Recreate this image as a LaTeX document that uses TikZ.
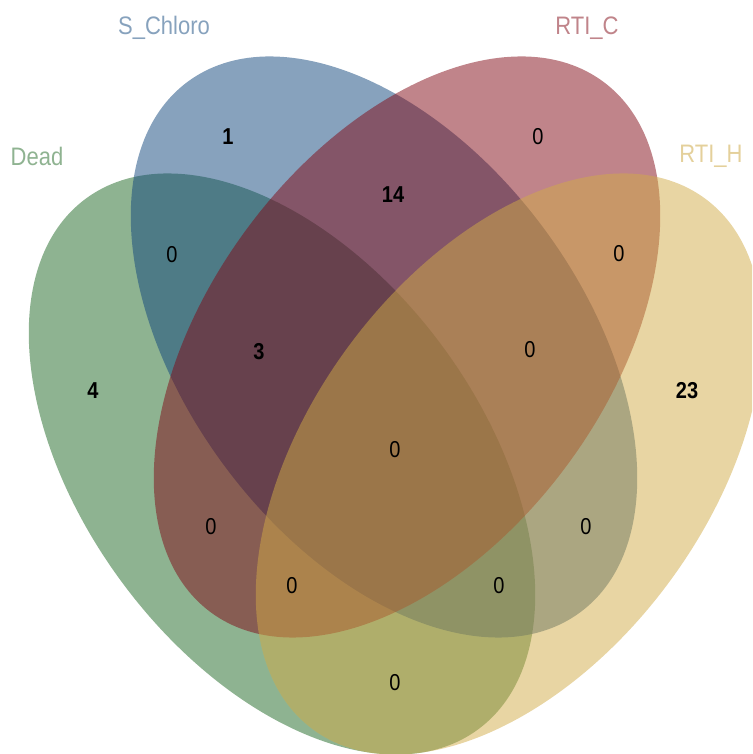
\documentclass[tikz,border=0pt]{standalone}
\usepackage{fontspec}
\setmainfont{Liberation Sans}
\definecolor{deadc}{RGB}{30,104,36}
\definecolor{schc}{RGB}{15,69,123}
\definecolor{rtic}{RGB}{129,9,21}
\definecolor{rtih}{RGB}{209,171,71}
\definecolor{deadl}{RGB}{143,179,145}
\definecolor{schl}{RGB}{135,162,189}
\definecolor{rticl}{RGB}{192,132,138}
\definecolor{rtihl}{RGB}{228,208,155}
\newcommand{\vst}[1]{\scalebox{1}[1.15]{#1}}
\begin{document}
\begin{tikzpicture}[x=1pt,y=1pt,
  setfill/.style={fill=#1, fill opacity=0.5},
  num/.style={font=\fontsize{20}{20}\selectfont, text=black, inner sep=0pt},
  bnum/.style={font=\fontsize{20}{20}\selectfont\bfseries, text=black, inner sep=0pt},
  lab/.style={font=\fontsize{22}{22}\selectfont, inner sep=0pt, text=#1}]
\useasboundingbox (0,0) rectangle (752,754);
\clip (0,0) rectangle (752,754);
% sets (Dead, S_Chloro, RTI_C, RTI_H)
\fill[setfill=deadc, rotate around={-53.5:(282,290)}] (282,290) ellipse [x radius=330, y radius=199];
\fill[setfill=schc, rotate around={-53.5:(384,407)}] (384,407) ellipse [x radius=330, y radius=199];
\fill[setfill=rtic, rotate around={53.5:(407,407)}] (407,407) ellipse [x radius=330, y radius=199];
\fill[setfill=rtih, rotate around={53.5:(509,290)}] (509,290) ellipse [x radius=330, y radius=199];
% set labels
\node[lab=schl] (lS) at (164,726) {\vst{S\_Chloro}};
\node[lab=rticl] (lC) at (587,726) {\vst{RTI\_C}};
\node[lab=deadl] (lD) at (37,598) {\vst{Dead}};
\node[lab=rtihl] (lH) at (711,598) {\vst{RTI\_H}};
% counts
\node[bnum] (n1) at (228,617) {\vst{1}};
\node[num] (n2) at (538,617) {\vst{0}};
\node[bnum] (n3) at (393,559) {\vst{14}};
\node[num] (n4) at (172,499) {\vst{0}};
\node[num] (n5) at (619,500) {\vst{0}};
\node[bnum] (n6) at (259,402) {\vst{3}};
\node[num] (n7) at (530,404) {\vst{0}};
\node[bnum] (n8) at (93,363) {\vst{4}};
\node[bnum] (n9) at (687,363) {\vst{23}};
\node[num] (n10) at (395,304) {\vst{0}};
\node[num] (n11) at (211,227) {\vst{0}};
\node[num] (n12) at (586,227) {\vst{0}};
\node[num] (n13) at (292,168) {\vst{0}};
\node[num] (n14) at (499,168) {\vst{0}};
\node[num] (n15) at (395,71) {\vst{0}};
\end{tikzpicture}
\end{document}
